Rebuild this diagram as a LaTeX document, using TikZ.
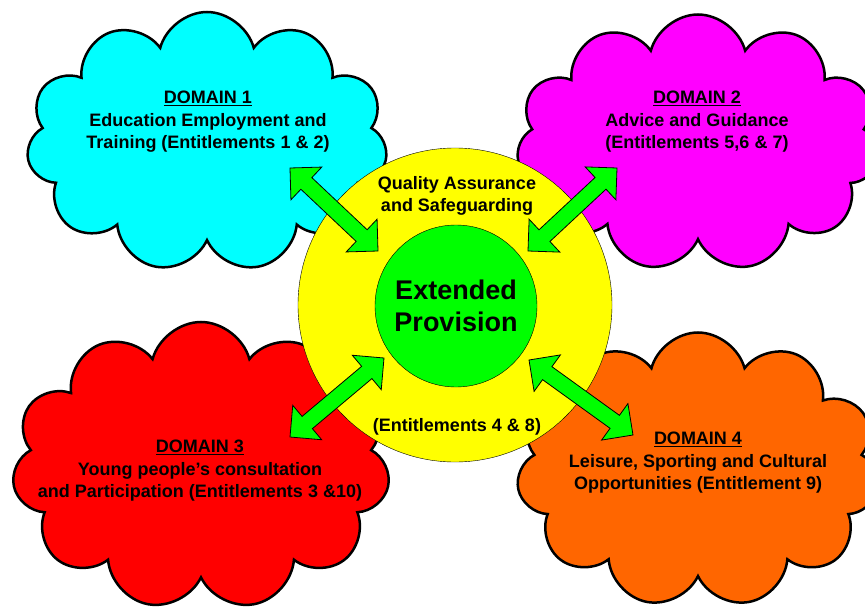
\documentclass[tikz,border=0pt]{standalone}
\usepackage{fontspec}
\setmainfont{Liberation Sans}
\usetikzlibrary{shapes.symbols,calc}
\definecolor{domcyan}{RGB}{0,255,255}
\definecolor{dommagenta}{RGB}{255,0,255}
\definecolor{domred}{RGB}{255,0,0}
\definecolor{domorange}{RGB}{255,102,0}
\definecolor{ringyellow}{RGB}{255,255,0}
\definecolor{coregreen}{RGB}{0,255,0}
\newcommand{\headlen}{22.5pt}
\newcommand{\headhw}{22.5pt}
\newcommand{\shafthw}{8pt}
% block arrow with a head at both ends
\newcommand{\biarrow}[2]{%
  \draw[arr] (#1) -- ($(#1)!\headlen!(#2)!\headhw!90:(#2)$)
    -- ($(#1)!\headlen!(#2)!\shafthw!90:(#2)$)
    -- ($(#2)!\headlen!(#1)!\shafthw!-90:(#1)$)
    -- ($(#2)!\headlen!(#1)!\headhw!-90:(#1)$) -- (#2)
    -- ($(#2)!\headlen!(#1)!\headhw!90:(#1)$)
    -- ($(#2)!\headlen!(#1)!\shafthw!90:(#1)$)
    -- ($(#1)!\headlen!(#2)!\shafthw!-90:(#2)$)
    -- ($(#1)!\headlen!(#2)!\headhw!-90:(#2)$) -- cycle;}

\begin{document}
\begin{tikzpicture}[x=1pt,y=-1pt,
    cloudbox/.style={cloud, cloud puffs=11, cloud ignores aspect, draw=black, line width=2.5pt, inner sep=0pt},
    txt/.style={font=\bfseries\fontsize{18}{22.5}\selectfont, align=center},
    arr/.style={draw=black, line width=0.8pt, fill=coregreen, line join=miter}]
    \useasboundingbox (0,0) rectangle (865,615);

    % Domains
    \node[cloudbox, fill=domcyan, minimum width=361pt, minimum height=260pt] (dom1) at (207,142) {};
    \node[cloudbox, fill=dommagenta, minimum width=363pt, minimum height=257pt] (dom2) at (698,143) {};
    \node[cloudbox, fill=domred, minimum width=378pt, minimum height=288pt] (dom3) at (201,466) {};
    \node[cloudbox, fill=domorange, minimum width=363pt, minimum height=275pt] (dom4) at (698,470) {};

    \node[txt] (dom1txt) at (208,122) {\underline{DOMAIN 1}\\Education Employment and\\Training (Entitlements 1 \& 2)};
    \node[txt] (dom2txt) at (697,122) {\underline{DOMAIN 2}\\Advice and Guidance\\(Entitlements 5,6 \& 7)};
    \node[txt] (dom3txt) at (200,471) {\underline{DOMAIN 3}\\Young people’s consultation\\and Participation (Entitlements 3 \&10)};
    \node[txt] (dom4txt) at (698,463) {\underline{DOMAIN 4}\\Leisure, Sporting and Cultural\\Opportunities (Entitlement 9)};

    % Centre
    \node[circle, draw, fill=ringyellow, minimum size=314pt, inner sep=0pt] (ring) at (455,305) {};
    \node[circle, draw, fill=coregreen, minimum size=162pt, inner sep=0pt] (core) at (456,306) {};
    \node[txt, font=\bfseries\fontsize{27}{32}\selectfont] (coretxt) at (core) {Extended\\Provision};
    \node[txt] (qatxt) at (457,196) {Quality Assurance\\and Safeguarding};
    \node[txt] (enttxt) at (457,427) {(Entitlements 4 \& 8)};

    % Arrows
    \coordinate (a1o) at (290,168); \coordinate (a1i) at (378,251);
    \coordinate (a2o) at (617,168); \coordinate (a2i) at (528,251);
    \coordinate (a3o) at (290,437); \coordinate (a3i) at (384,358);
    \coordinate (a4o) at (633,435); \coordinate (a4i) at (529,360);
    \biarrow{a1o}{a1i}
    \biarrow{a2o}{a2i}
    \biarrow{a3o}{a3i}
    \biarrow{a4o}{a4i}

\end{tikzpicture}
\end{document}
